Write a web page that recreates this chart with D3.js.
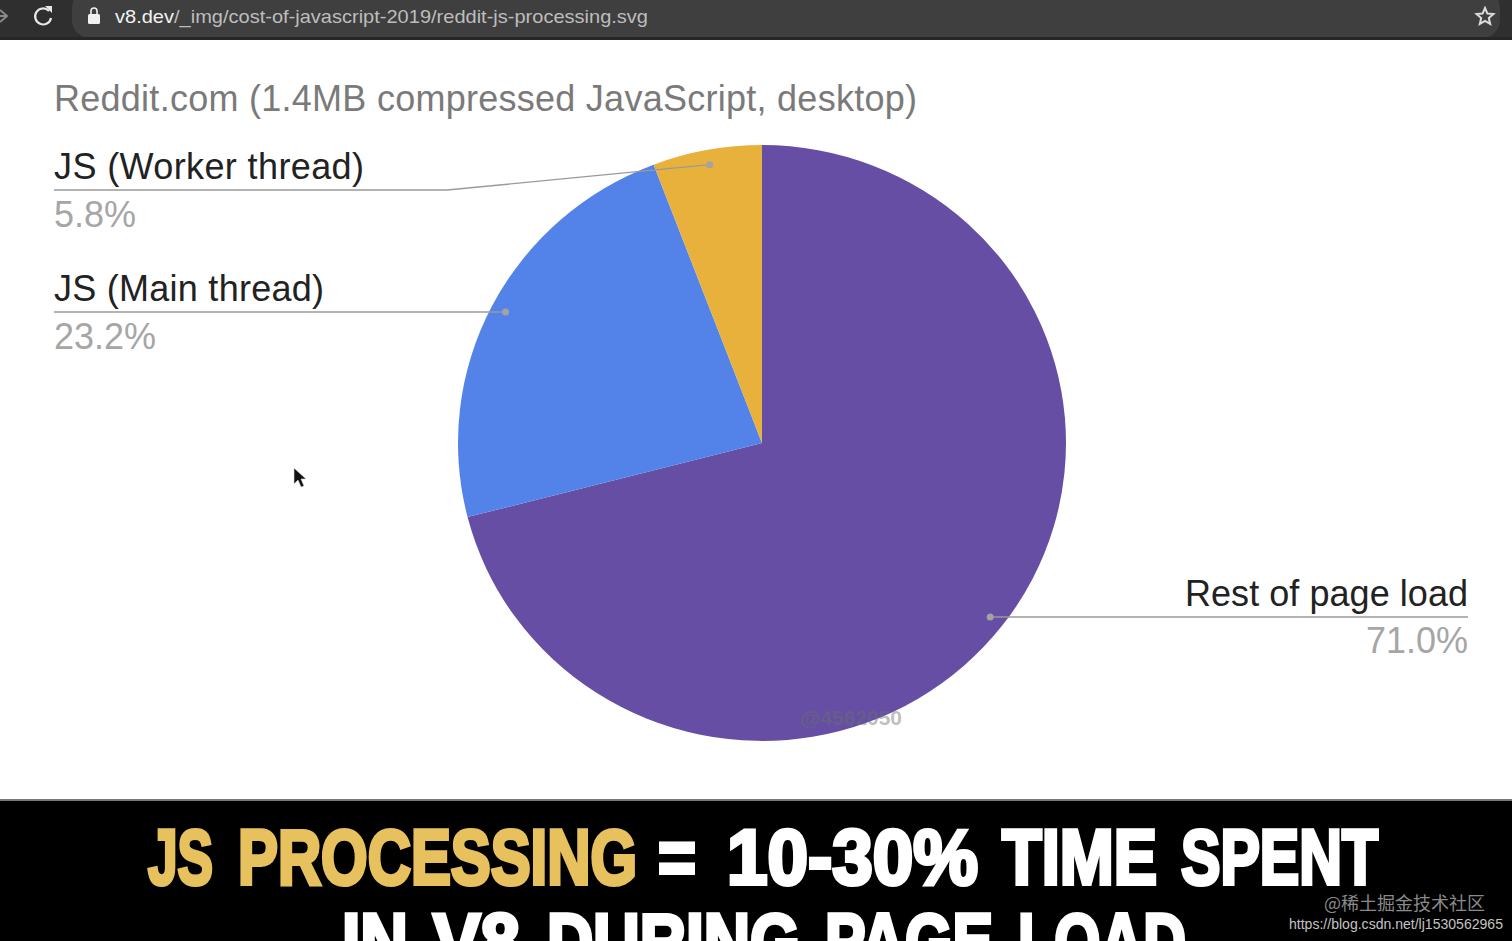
<!DOCTYPE html>
<html lang="en">
<head>
<meta charset="UTF-8">
<title>Reddit JS processing</title>
<style>
  html, body { margin: 0; background: #fff; overflow: hidden; }
  svg { display: block; font-family: "Liberation Sans", Arial, sans-serif; }
  .name { font-size: 36px; fill: #222; }
  .pct { font-size: 36px; fill: #a6a6a6; }
  .leader { fill: none; stroke: #9a9a9a; stroke-width: 1.4; }
  .caption { font-family: "Liberation Sans Narrow", "Liberation Sans", sans-serif; font-weight: bold; font-size: 78px; stroke-width: 4px; stroke-linejoin: miter; }
</style>
</head>
<body>
<svg id="chart" width="1512" height="941"></svg>
<script src="https://d3js.org/d3.v7.min.js"></script>
<script>
const categories = ["Rest of page load", "JS (Main thread)", "JS (Worker thread)"];
const shares = [71.0, 23.2, 5.8];
const sliceColors = ["#654ea3", "#5383e8", "#e8b13c"];
const chartTitle = "Reddit.com (1.4MB compressed JavaScript, desktop)";

const svg = d3.select("#chart");

// browser bar
const bar = svg.append("g");
bar.append("rect").attr("width", 1512).attr("height", 40).attr("fill", "#2f2f2f");
bar.append("rect").attr("x", 72).attr("y", -10).attr("width", 1428).attr("height", 48).attr("rx", 18).attr("fill", "#3f3f3f");
bar.append("rect").attr("y", 37).attr("width", 1512).attr("height", 3).attr("fill", "#262626");
bar.append("path").attr("d", "M0 10L7 16L0 22M-4 16H7").attr("fill", "none").attr("stroke", "#8a8a8a").attr("stroke-width", 2);
bar.append("path").attr("d", "M49 11A8 8 0 1 0 51 18").attr("fill", "none").attr("stroke", "#e8e8e8").attr("stroke-width", 2.2);
bar.append("path").attr("d", "M45 6L52 6L52 13Z").attr("fill", "#e8e8e8");
bar.append("rect").attr("x", 88).attr("y", 14).attr("width", 12).attr("height", 10).attr("rx", 1.5).attr("fill", "#f0f0f0");
bar.append("path").attr("d", "M91 14V11A3 3 0 0 1 97 11V14").attr("fill", "none").attr("stroke", "#f0f0f0").attr("stroke-width", 1.6);
bar.append("path").attr("d", "M1485 8L1487.4 13.6L1493.4 14.1L1488.8 18L1490.2 23.9L1485 20.8L1479.8 23.9L1481.2 18L1476.6 14.1L1482.6 13.6Z")
  .attr("fill", "none").attr("stroke", "#dcdcdc").attr("stroke-width", 2);
const url = bar.append("text").attr("x", 115).attr("y", 23).attr("font-size", 19)
  .attr("textLength", 533).attr("lengthAdjust", "spacingAndGlyphs");
url.append("tspan").attr("fill", "#f2f2f2").text("v8.dev");
url.append("tspan").attr("fill", "#bdbdbd").text("/_img/cost-of-javascript-2019/reddit-js-processing.svg");

svg.append("text").attr("x", 54).attr("y", 111).attr("font-size", 36).attr("fill", "#7a7a7a")
  .attr("textLength", 863).attr("lengthAdjust", "spacing").text(chartTitle);

// pie, the video frame is a bit squashed vertically
const cx = 762, cy = 443, radius = 304, squash = 0.98;
const pie = d3.pie().sort(null)(shares);
const arc = d3.arc().innerRadius(0).outerRadius(radius);
const dotArc = d3.arc().innerRadius(radius * 0.95).outerRadius(radius * 0.95);
const pieG = svg.append("g").attr("transform", `translate(${cx},${cy}) scale(1,${squash})`);
pieG.selectAll("path").data(pie).join("path").attr("d", arc).attr("fill", (d, i) => sliceColors[i]);

const dots = pie.map(d => {
  const c = dotArc.centroid(d);
  return [cx + c[0], cy + c[1] * squash];
});

// leader lines start at the slice dot and run under the label
const labelRows = [
  { side: "right", y: 617, nameY: 606, pctY: 653, x: 1468, w: 283 },
  { side: "left", y: 312, nameY: 301, pctY: 349, x: 54, w: 270 },
  { side: "left", y: 190, nameY: 179, pctY: 227, x: 54, w: 310, elbow: 447 }
];
labelRows.forEach((row, i) => {
  const pts = [dots[i]];
  if (row.elbow) pts.push([row.elbow, row.y]);
  else pts[0] = [dots[i][0], row.y];
  pts.push([row.x, row.y]);
  svg.append("path").attr("class", "leader").attr("d", d3.line()(pts));
  svg.append("circle").attr("cx", pts[0][0]).attr("cy", pts[0][1]).attr("r", 3.5).attr("fill", "#a3a3a3");
  const anchor = row.side === "right" ? "end" : "start";
  svg.append("text").attr("class", "name").attr("x", row.x).attr("y", row.nameY).attr("text-anchor", anchor)
    .attr("textLength", row.w).attr("lengthAdjust", "spacing").text(categories[i]);
  svg.append("text").attr("class", "pct").attr("x", row.x).attr("y", row.pctY).attr("text-anchor", anchor).text(shares[i].toFixed(1) + "%");
});

// video watermark, see-through over the pie edge
svg.append("text").attr("x", 800).attr("y", 725).attr("font-size", 21).attr("font-weight", "bold")
  .attr("textLength", 102).attr("lengthAdjust", "spacingAndGlyphs")
  .attr("fill", "#6e6e6e").attr("fill-opacity", 0.45).text("@4562050");

// mouse cursor
svg.append("path").attr("d", "M294 468V484L298 480L301 487L304 486L301 479L306 479Z").attr("fill", "#111").attr("stroke", "#ddd").attr("stroke-width", 0.6);

// caption band, word by word because the original face has wide gaps
svg.append("rect").attr("y", 800).attr("width", 1512).attr("height", 141).attr("fill", "#000");
svg.append("rect").attr("y", 799).attr("width", 1512).attr("height", 2).attr("fill", "#777");
const captions = [
  { t: "JS", x: 148, x2: 213, y: 884, c: "#e8c15f" },
  { t: "PROCESSING", x: 238, x2: 637, y: 884, c: "#e8c15f" },
  { t: "=", x: 658, x2: 696, y: 884, c: "#fff" },
  { t: "10-30%", x: 727, x2: 978, y: 884, c: "#fff" },
  { t: "TIME", x: 1002, x2: 1157, y: 884, c: "#fff" },
  { t: "SPENT", x: 1181, x2: 1378, y: 884, c: "#fff" },
  { t: "IN", x: 342, x2: 408, y: 968, c: "#fff" },
  { t: "V8", x: 433, x2: 520, y: 968, c: "#fff" },
  { t: "DURING", x: 547, x2: 800, y: 968, c: "#fff" },
  { t: "PAGE", x: 825, x2: 993, y: 968, c: "#fff" },
  { t: "LOAD", x: 1018, x2: 1186, y: 968, c: "#fff" }
];
svg.selectAll("text.caption").data(captions).join("text").attr("class", "caption")
  .attr("x", d => d.x).attr("y", d => d.y).attr("textLength", d => d.x2 - d.x).attr("lengthAdjust", "spacingAndGlyphs")
  .attr("fill", d => d.c).attr("stroke", d => d.c).text(d => d.t);

// site watermarks
svg.append("text").attr("x", 1485).attr("y", 910).attr("text-anchor", "end").attr("font-family", "Noto Sans CJK SC").attr("font-size", 18)
  .attr("fill", "#8a8a8a").text("@稀土掘金技术社区");
svg.append("text").attr("x", 1503).attr("y", 929).attr("text-anchor", "end").attr("font-size", 14.5)
  .attr("textLength", 214).attr("lengthAdjust", "spacingAndGlyphs")
  .attr("fill", "#c4c4c4").text("https://blog.csdn.net/lj1530562965");
</script>
</body>
</html>
